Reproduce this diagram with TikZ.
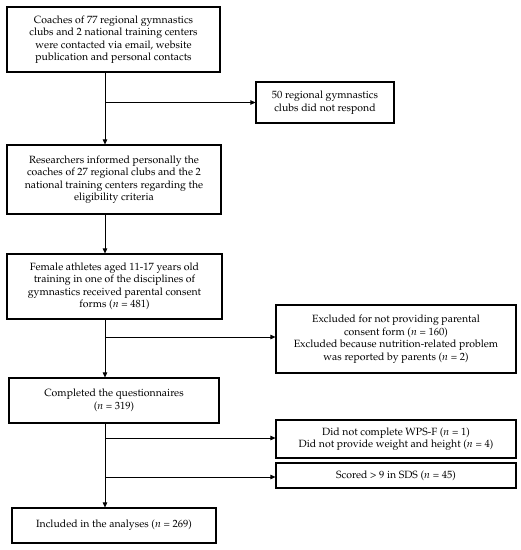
\documentclass[tikz,border=0pt]{standalone}
\usepackage[T1]{fontenc}
\usepackage{mathpazo}
\usetikzlibrary{arrows.meta,positioning}
\tikzset{
    box/.style ={
        shape=rectangle,
        draw=black,
        line width=1.1pt,
        align=center,
        inner sep=2pt,
        font=\fontsize{10.5}{12.5}\selectfont
    },
    arr/.style ={
        draw=black,
        line width=0.6pt,
        -{Triangle[length=5pt,width=4.5pt]}
    },
    link/.style ={
        draw=black,
        line width=0.6pt
    }
}

\begin{document}
\begin{tikzpicture}[x=1pt,y=-1pt]
    \useasboundingbox (0,0) rectangle (521,550);
    \coordinate (spine) at (105,0);
    \node[box,minimum width=213,minimum height=65] (contact) at(113.5,39.5)
        {Coaches of 77 regional gymnastics\\clubs and 2 national training centers\\were contacted via email, website\\publication and personal contacts};
    \node[box,minimum width=138,minimum height=41] (noreply) at(325,102.5)
        {50 regional gymnastics\\clubs did not respond};
    \node[box,minimum width=214,minimum height=69] (informed) at(114,179.5)
        {Researchers informed personally the\\coaches of 27 regional clubs and the 2\\national training centers regarding the\\eligibility criteria};
    \node[box,minimum width=215,minimum height=65] (consent) at(114.5,286.5)
        {Female athletes aged 11-17 years old\\training in one of the disciplines of\\gymnastics received parental consent\\forms ($n$ = 481)};
    \node[box,minimum width=240,minimum height=68] (excl) at(396,339)
        {Excluded for not providing parental\\consent form ($n$ = 160)\\Excluded because nutrition-related problem\\was reported by parents ($n$ = 2)};
    \node[box,minimum width=210,minimum height=45] (quest) at(114,400.5)
        {Completed the questionnaires\\($n$ = 319)};
    \node[box,minimum width=240,minimum height=38] (missing) at(396,439)
        {Did not complete WPS-F\ ($n$ = 1)\\Did not provide weight and height ($n$ = 4)};
    \node[box,minimum width=240,minimum height=25] (sds) at(396,475.5)
        {Scored > 9 in SDS ($n$ = 45)};
    \node[box,minimum width=204,minimum height=35] (final) at(114,525.5)
        {Included in the analyses ($n$ = 269)};
    % main line
    \draw[arr] (contact.south -| spine) -- (informed.north -| spine);
    \draw[arr] (informed.south -| spine) -- (consent.north -| spine);
    \draw[arr] (consent.south -| spine) -- (quest.north -| spine);
    \draw[arr] (quest.south -| spine) -- (final.north -| spine);
    % exclusions
    \draw[arr] (noreply.west -| spine) -- (noreply.west);
    \draw[arr] (spine |- 0,337) coordinate (b1) -- (b1 -| excl.west);
    \draw[arr] (spine |- 0,438) coordinate (b2) -- (b2 -| missing.west);
    \draw[arr] (spine |- 0,477) coordinate (b3) -- (b3 -| sds.west);
\end{tikzpicture}
\end{document}
